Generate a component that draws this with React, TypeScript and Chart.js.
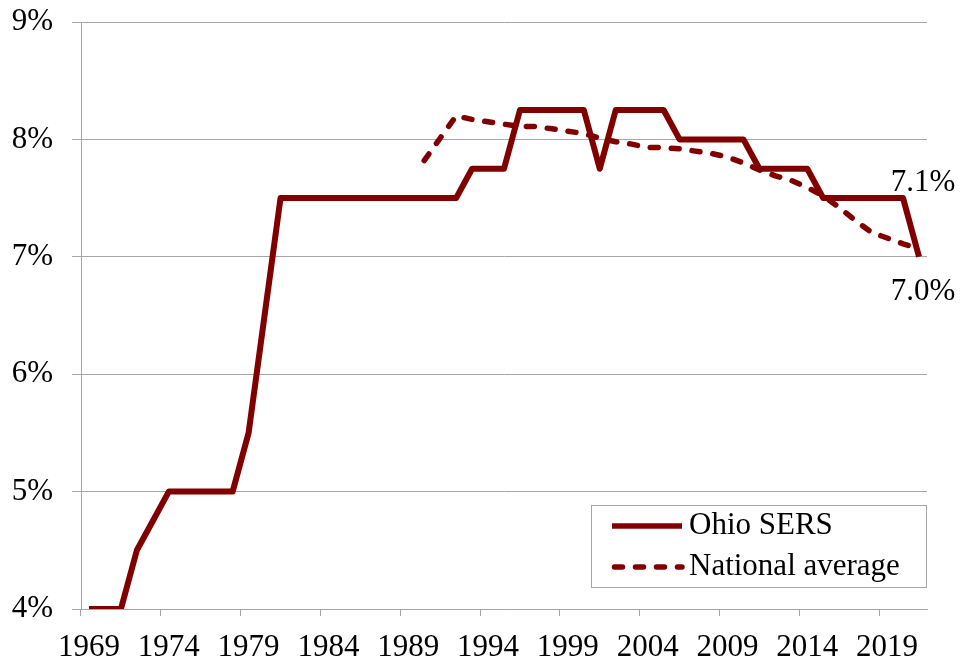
import React, { useEffect, useRef } from "react";
import { Chart, registerables } from "chart.js";

Chart.register(...registerables);

const FONT = "'Liberation Serif', 'Times New Roman', Times, serif";
const FONT_SIZE = 31;
const COLOR = "#800000";
const GRID = "#a6a6a6";

const years: string[] = [];
for (let y = 1969; y <= 2021; y++) years.push(String(y));

// Ohio SERS employee contribution rate (%), 1969–2021
const ohioSERS: number[] = [
  4.0, 4.0, 4.0, 4.5, 4.75, 5.0, 5.0, 5.0, 5.0, 5.0, // 1969-1978
  5.5, 6.5, 7.5, 7.5, 7.5, 7.5, 7.5, 7.5, 7.5, 7.5, // 1979-1988
  7.5, 7.5, 7.5, 7.5, 7.75, 7.75, 7.75, 8.25, 8.25, 8.25, // 1989-1998
  8.25, 8.25, 7.75, 8.25, 8.25, 8.25, 8.25, 8.0, 8.0, 8.0, // 1999-2008
  8.0, 8.0, 7.75, 7.75, 7.75, 7.75, 7.5, 7.5, 7.5, 7.5, // 2009-2018
  7.5, 7.5, 7.0, // 2019-2021
];

// National average (%), data from 1990 onward
const nationalAverage: (number | null)[] = [
  null, null, null, null, null, null, null, null, null, null, // 1969-1978
  null, null, null, null, null, null, null, null, null, null, // 1979-1988
  null, 7.82, 8.01, 8.2, 8.17, 8.15, 8.13, 8.11, 8.11, 8.09, // 1989-1998
  8.07, 8.05, 8.01, 7.98, 7.96, 7.93, 7.93, 7.92, 7.9, 7.88, // 1999-2008
  7.85, 7.8, 7.74, 7.69, 7.65, 7.59, 7.52, 7.42, 7.31, 7.21, // 2009-2018
  7.16, 7.11, 7.07, // 2019-2021
];

const seriesLabels = ["Ohio SERS", "National average"];
const yMin = 4;
const yMax = 9;

const legendPlugin = {
  id: "boxLegend",
  afterDraw(chart: any) {
    const ctx = chart.ctx;
    const area = chart.chartArea;
    ctx.save();
    ctx.font = `${FONT_SIZE}px ${FONT}`;
    const items = chart.data.datasets.map((ds: any) => ({
      label: ds.label,
      color: ds.borderColor,
      dash: ds.borderDash || [],
      cap: ds.borderCapStyle || "butt",
    }));
    const textW = Math.max(...items.map((i: any) => ctx.measureText(i.label).width));
    const padL = 21, sampleW = 70, gap = 7, padR = 27, padT = 21, rowH = 41;
    const boxW = padL + sampleW + gap + textW + padR;
    const boxH = 83;
    const right = area.right;
    const bottom = area.bottom - 21;
    const left = Math.round(right - boxW);
    const top = Math.round(bottom - boxH);
    ctx.fillStyle = "#ffffff";
    ctx.fillRect(left, top, right - left, bottom - top);
    ctx.strokeStyle = GRID;
    ctx.lineWidth = 1;
    ctx.strokeRect(left + 0.5, top + 0.5, right - left - 1, bottom - top - 1);
    items.forEach((it: any, i: number) => {
      const cy = top + padT + i * rowH;
      ctx.beginPath();
      ctx.strokeStyle = it.color;
      ctx.lineWidth = 5.5;
      ctx.lineCap = it.cap;
      ctx.setLineDash(it.dash);
      ctx.moveTo(left + padL + (it.cap === "round" ? 2.5 : 0), cy);
      ctx.lineTo(left + padL + sampleW, cy);
      ctx.stroke();
      ctx.setLineDash([]);
      ctx.fillStyle = "#000";
      ctx.textAlign = "left";
      ctx.textBaseline = "middle";
      ctx.fillText(it.label, left + padL + sampleW + gap, cy);
    });
    ctx.restore();
  },
};

const endLabelPlugin = {
  id: "endLabels",
  afterDraw(chart: any) {
    const ctx = chart.ctx;
    ctx.save();
    ctx.font = `${FONT_SIZE}px ${FONT}`;
    ctx.fillStyle = "#000";
    ctx.textAlign = "center";
    ctx.textBaseline = "middle";
    const offsets = [35, -66];
    chart.data.datasets.forEach((ds: any, di: number) => {
      const meta = chart.getDatasetMeta(di);
      const last = ds.data.length - 1;
      const pt = meta.data[last];
      const v = ds.data[last];
      if (!pt || v == null) return;
      ctx.fillText(v.toFixed(1) + "%", pt.x + 4, pt.y + offsets[di]);
    });
    ctx.restore();
  },
};

export default function App() {
  const ref = useRef<HTMLCanvasElement>(null);

  useEffect(() => {
    if (!ref.current) return;
    const chart = new Chart(ref.current, {
      type: "line",
      data: {
        labels: years,
        datasets: [
          {
            label: seriesLabels[0],
            data: ohioSERS,
            borderColor: COLOR,
            backgroundColor: COLOR,
            borderWidth: 6,
            borderJoinStyle: "round",
            pointRadius: 0,
            tension: 0,
            fill: false,
          },
          {
            label: seriesLabels[1],
            data: nationalAverage,
            borderColor: COLOR,
            backgroundColor: COLOR,
            borderWidth: 5.5,
            borderDash: [8, 13],
            borderCapStyle: "round",
            borderJoinStyle: "round",
            pointRadius: 0,
            tension: 0,
            fill: false,
            spanGaps: false,
          },
        ],
      },
      options: {
        animation: false,
        responsive: false,
        maintainAspectRatio: false,
        layout: { padding: { left: 0, right: 34, top: 22, bottom: 0 } },
        plugins: {
          legend: { display: false },
          tooltip: { enabled: false },
        },
        scales: {
          x: {
            type: "category",
            offset: true,
            grid: {
              display: true,
              offset: true,
              drawOnChartArea: false,
              drawTicks: true,
              tickLength: 7,
              tickColor: (c: any) => (c.index % 5 === 0 ? GRID : "rgba(0,0,0,0)"),
              color: GRID,
            },
            border: { display: true, color: GRID, width: 1 },
            ticks: {
              autoSkip: false,
              maxRotation: 0,
              minRotation: 0,
              padding: 13,
              color: "#000",
              font: { family: FONT, size: FONT_SIZE },
              callback: (_v: any, i: number) => (i % 5 === 0 ? years[i] : ""),
            },
            afterFit: (s: any) => {
              s.height = 54;
              s.paddingLeft = 0;
              s.paddingRight = 0;
            },
          },
          y: {
            min: yMin,
            max: yMax,
            grid: {
              color: GRID,
              drawTicks: true,
              tickLength: 9,
              tickColor: GRID,
            },
            border: { display: true, color: GRID, width: 1 },
            ticks: {
              stepSize: 1,
              padding: 19,
              color: "#000",
              font: { family: FONT, size: FONT_SIZE },
              callback: (v: any) => v + "%",
            },
            afterFit: (s: any) => {
              s.width = 81;
              s.paddingTop = 0;
              s.paddingBottom = 0;
            },
          },
        },
      },
      plugins: [legendPlugin, endLabelPlugin],
    } as any);
    return () => chart.destroy();
  }, []);

  return (
    <div style={{ position: "fixed", left: 0, top: 0, width: 961, height: 663, background: "#fff" }}>
      <canvas ref={ref} width={961} height={663} style={{ display: "block" }} />
    </div>
  );
}
